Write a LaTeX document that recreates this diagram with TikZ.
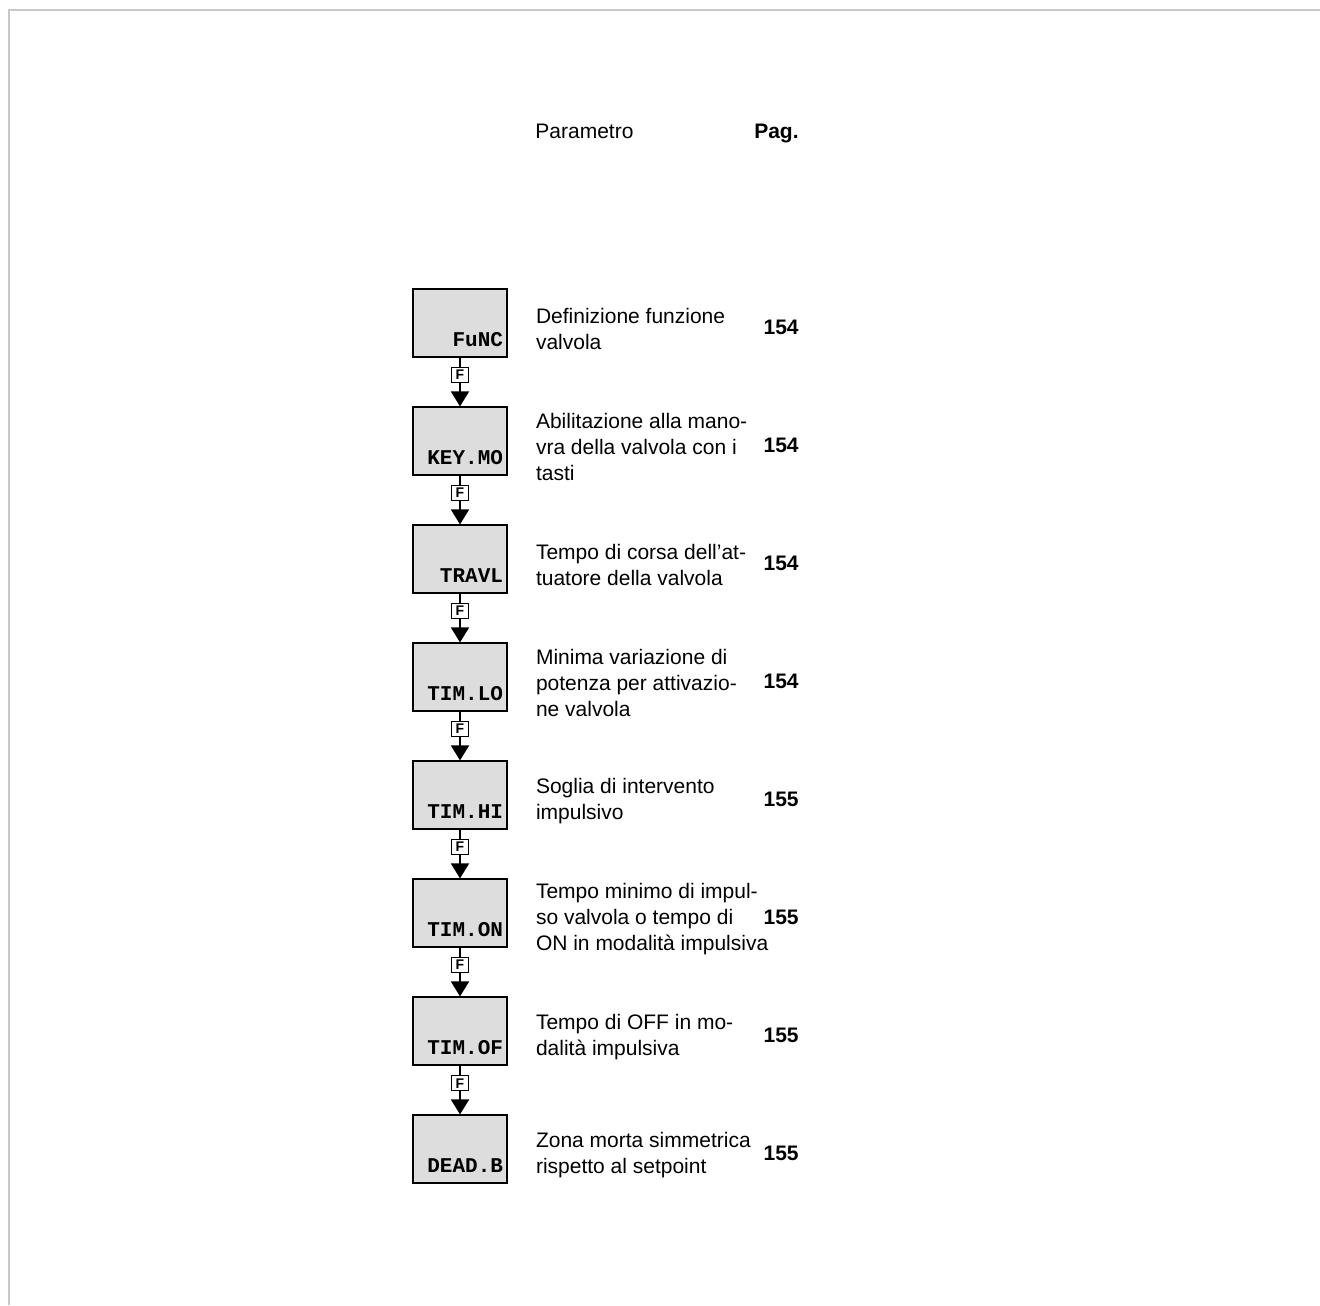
\documentclass[tikz,border=0pt]{standalone}
\usepackage{fontspec}
\setmainfont{Liberation Sans}
\setmonofont{Liberation Mono}
\usetikzlibrary{arrows.meta, positioning}
\definecolor{boxfill}{RGB}{221,221,221}
\definecolor{framegray}{RGB}{200,200,200}

\begin{document}
\begin{tikzpicture}[x=0.5pt, y=-0.5pt,
  param/.style={rectangle, draw, line width=0.6pt, fill=boxfill, inner xsep=2pt, inner ysep=0pt,
    text width=43pt, align=right, text height=28.5pt, text depth=5.5pt,
    font=\ttfamily\bfseries\fontsize{10.5}{13}\selectfont},
  desc/.style={anchor=west, align=left, inner sep=0pt, font=\fontsize{10.5}{13}\selectfont},
  page/.style={anchor=east, inner sep=0pt, font=\bfseries\fontsize{10.5}{13}\selectfont},
  fkey/.style={draw, fill=white, line width=0.6pt, inner sep=0pt, minimum width=8.5pt,
    minimum height=7.5pt, font=\bfseries\fontsize{7}{7}\selectfont},
  flow/.style={-{Triangle[length=7.5pt, width=9pt]}, line width=1pt}
]
\useasboundingbox (0,0) rectangle (1320,1305);
\draw[framegray, line width=1pt] (8.5,1305) -- (8.5,10) -- (1320,10);

% header
\node[desc, anchor=base west] (head1) at (535,139) {Parametro};
\node[page, anchor=base east] (head2) at (799,139) {Pag.};

% parameter boxes
\node[param] (b1) at (460,323) {FuNC};
\node[param, below=24.4pt of b1] (b2) {KEY.MO};
\node[param, below=24.4pt of b2] (b3) {TRAVL};
\node[param, below=24.4pt of b3] (b4) {TIM.LO};
\node[param, below=24.4pt of b4] (b5) {TIM.HI};
\node[param, below=24.4pt of b5] (b6) {TIM.ON};
\node[param, below=24.4pt of b6] (b7) {TIM.OF};
\node[param, below=24.4pt of b7] (b8) {DEAD.B};

% descriptions
\node[desc, right=14pt of b1, yshift=-3pt] (d1) {Definizione funzione\\valvola};
\node[desc, right=14pt of b2, yshift=-3pt] (d2) {Abilitazione alla mano-\\vra della valvola con i\\tasti};
\node[desc, right=14pt of b3, yshift=-3pt] (d3) {Tempo di corsa dell’at-\\tuatore della valvola};
\node[desc, right=14pt of b4, yshift=-3pt] (d4) {Minima variazione di\\potenza per attivazio-\\ne valvola};
\node[desc, right=14pt of b5, yshift=-3pt] (d5) {Soglia di intervento\\impulsivo};
\node[desc, right=14pt of b6, yshift=-3pt] (d6) {Tempo minimo di impul-\\so valvola o tempo di\\ON in modalità impulsiva};
\node[desc, right=14pt of b7, yshift=-3pt] (d7) {Tempo di OFF in mo-\\dalità impulsiva};
\node[desc, right=14pt of b8, yshift=-3pt] (d8) {Zona morta simmetrica\\rispetto al setpoint};

% page numbers
\node[page] (p1) at ([yshift=-2pt]b1 -| head2.east) {154};
\node[page] (p2) at ([yshift=-2pt]b2 -| head2.east) {154};
\node[page] (p3) at ([yshift=-2pt]b3 -| head2.east) {154};
\node[page] (p4) at ([yshift=-2pt]b4 -| head2.east) {154};
\node[page] (p5) at ([yshift=-2pt]b5 -| head2.east) {155};
\node[page] (p6) at ([yshift=-2pt]b6 -| head2.east) {155};
\node[page] (p7) at ([yshift=-2pt]b7 -| head2.east) {155};
\node[page] (p8) at ([yshift=-2pt]b8 -| head2.east) {155};

% F key steps
\draw[flow] (b1) -- node[fkey, pos=0.36] (f1) {F} (b2);
\draw[flow] (b2) -- node[fkey, pos=0.36] (f2) {F} (b3);
\draw[flow] (b3) -- node[fkey, pos=0.36] (f3) {F} (b4);
\draw[flow] (b4) -- node[fkey, pos=0.36] (f4) {F} (b5);
\draw[flow] (b5) -- node[fkey, pos=0.36] (f5) {F} (b6);
\draw[flow] (b6) -- node[fkey, pos=0.36] (f6) {F} (b7);
\draw[flow] (b7) -- node[fkey, pos=0.36] (f7) {F} (b8);
\end{tikzpicture}
\end{document}
